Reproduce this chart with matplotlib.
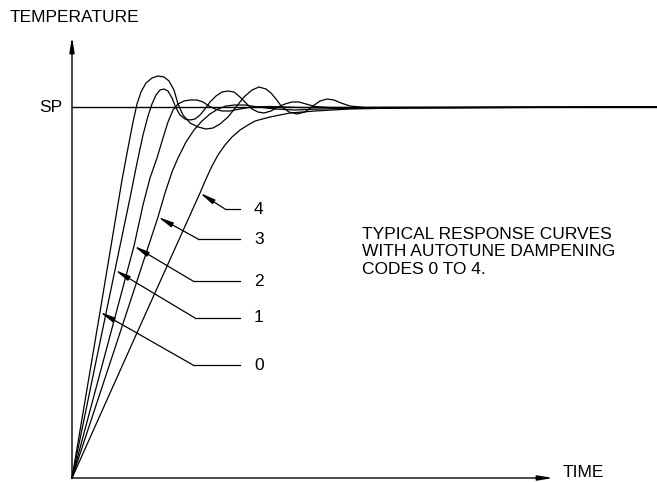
import matplotlib.pyplot as plt

plt.rcParams['font.family'] = ['Liberation Sans', 'DejaVu Sans']

# setpoint level (drawing units)
SP = 371

# response curves for autotune dampening codes 0..4
t0 = [0, 14, 28, 42, 50, 56, 61, 65, 69, 74, 80, 86, 92, 97, 102, 106, 111, 118, 126, 134,
      141, 148, 156, 164, 172, 180, 187, 194, 199, 204, 210, 217, 225, 233, 241, 248, 255, 262,
      269, 278, 293, 585]
T0 = [0, 83, 166, 250, 298, 330, 356, 374, 386, 395, 400, 402, 401, 397, 388, 374, 363, 355, 351, 349,
      350, 354, 361, 371, 381, 388, 391, 389, 385, 379, 371, 366, 364, 366, 372, 377, 379, 378,
      375, 372, 370.5, 371]

t1 = [0, 22, 43, 58, 65, 71, 76, 80, 84, 88, 92, 96, 100, 104, 108, 113, 118, 123, 128, 133,
      138, 144, 150, 156, 162, 168, 174, 180, 186, 192, 199, 206, 213, 220, 227, 234, 243, 263, 585]
T1 = [0, 107, 208, 280, 315, 343, 362, 374, 383, 388, 389, 387, 380, 370, 363, 359, 358, 359, 363, 369,
      376, 382, 386, 387, 386, 381, 375, 369, 366, 365, 367, 371, 374, 376, 376, 374, 371.5, 370, 371]

t2 = [0, 31, 62, 71, 78, 85, 91, 96, 101, 106, 112, 118, 125, 131, 137, 143, 150, 158, 168, 180,
      198, 228, 585]
T2 = [0, 116, 232, 273, 300, 320, 340, 356, 368, 374, 377, 378, 378, 376, 372, 369, 367, 367, 369, 371,
      371.5, 370.5, 371]

t3 = [0, 43, 86, 93, 100, 106, 114, 122, 130, 138, 146, 154, 163, 173, 186, 203, 223, 248, 288, 585]
T3 = [0, 130, 261, 285, 306, 320, 336, 348, 357, 364, 369, 372, 373, 373, 371, 369, 368, 369, 370, 371]

t4 = [0, 64, 128, 134, 140, 146, 153, 160, 168, 176, 183, 198, 218, 243, 278, 328, 408, 585]
T4 = [0, 143, 285, 299, 312, 323, 333, 341, 348, 353, 357, 361, 365, 367, 369, 370, 370.5, 371]

curves = [(t0, T0), (t1, T1), (t2, T2), (t3, T3), (t4, T4)]
codes = ['0', '1', '2', '3', '4']
# index of the point on each curve that its label arrow points at
tip_idx = [2, 2, 2, 2, 2]

fig = plt.figure(figsize=(6.57, 4.82), dpi=100)
ax = fig.add_axes([0, 0, 1, 1])
ax.set_xlim(-72, 585)
ax.set_ylim(-4, 478)
ax.axis('off')

head = '-|>,head_length=0.9,head_width=0.15'

# axes with arrows
ax.annotate('', xy=(0, 441), xytext=(0, 0),
            arrowprops=dict(arrowstyle=head, lw=1.0, color='black',
                            mutation_scale=10, shrinkA=0, shrinkB=0))
ax.annotate('', xy=(481, 0), xytext=(0, 0),
            arrowprops=dict(arrowstyle=head, lw=1.0, color='black',
                            mutation_scale=10, shrinkA=0, shrinkB=0))

# setpoint line
ax.plot([0, 585], [SP, SP], color='black', lw=1.0)

for t, T in curves:
    ax.plot(t, T, color='black', lw=0.9, solid_joinstyle='round')

# label leaders: elbow point, then horizontal run to the code number
elbows = [(121, 113), (123, 160), (121, 197), (126, 239), (153, 269)]
for (t, T), k, code, (ex, ey) in zip(curves, tip_idx, codes, elbows):
    ax.plot([ex, 168], [ey, ey], color='black', lw=0.9)
    ax.annotate('', xy=(t[k], T[k]), xytext=(ex, ey),
                arrowprops=dict(arrowstyle=head, lw=0.9, color='black',
                                mutation_scale=10, shrinkA=0, shrinkB=0))
    ax.text(182, ey, code, fontsize=12.5, ha='left', va='center')

ax.text(-62, 460, 'TEMPERATURE', fontsize=12.5, ha='left', va='center')
ax.text(-10, SP, 'SP', fontsize=12.5, ha='right', va='center')
ax.text(491, 5.5, 'TIME', fontsize=12.5, ha='left', va='center')
ax.text(290, 226, 'TYPICAL RESPONSE CURVES\nWITH AUTOTUNE DAMPENING\nCODES 0 TO 4.',
        fontsize=12.5, ha='left', va='center', linespacing=1.24)

fig.savefig('out.png', dpi=100)
